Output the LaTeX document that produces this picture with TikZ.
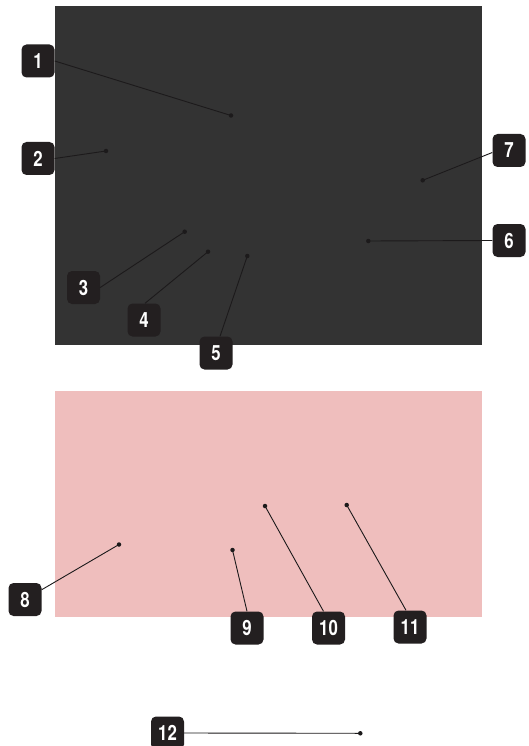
\documentclass[tikz,border=0pt]{standalone}
\usepackage{fontspec}
\newfontfamily\lblfont[FakeStretch=0.8]{TeX Gyre Heros}
\definecolor{darkbg}{RGB}{51,51,51}
\definecolor{pinkbg}{RGB}{239,190,189}
\definecolor{lblbg}{RGB}{35,31,32}
\definecolor{leaderdark}{RGB}{28,26,27}
\tikzset{
  lbl/.style={rectangle, rounded corners=5pt, fill=lblbg, text=white,
    minimum width=33pt, minimum height=33pt, inner sep=0pt,
    font=\lblfont\bfseries\fontsize{21}{21}\selectfont},
  dotpt/.style={circle, fill=leaderdark, inner sep=0pt, minimum size=4.5pt},
  leader/.style={draw=leaderdark, line width=0.9pt},
}
\begin{document}
\begin{tikzpicture}[x=1pt,y=-1pt]
\useasboundingbox (0,0) rectangle (529,746);
\fill[white] (0,0) rectangle (529,746);
\fill[darkbg] (55,6) rectangle (482,344.5);
\fill[pinkbg] (55,391) rectangle (482,617);

% dots
\node[dotpt] (d1) at (231,115.5) {};
\node[dotpt] (d2) at (106,151) {};
\node[dotpt] (d3) at (184.7,231.7) {};
\node[dotpt] (d4) at (208,251.7) {};
\node[dotpt] (d5) at (247.3,256) {};
\node[dotpt] (d6) at (368.3,241) {};
\node[dotpt] (d7) at (422.7,180.3) {};
\node[dotpt] (d8) at (119,544.5) {};
\node[dotpt] (d9) at (232.5,550) {};
\node[dotpt] (d10) at (265,506) {};
\node[dotpt] (d11) at (346.7,505) {};
\node[dotpt] (d12) at (360.3,733.3) {};

% labels
\node[lbl] (l1) at (38,61) {1};
\node[lbl] (l2) at (38,158.5) {2};
\node[lbl] (l3) at (83.5,287.5) {3};
\node[lbl] (l4) at (144,320) {4};
\node[lbl] (l5) at (216,353) {5};
\node[lbl] (l6) at (509,240.5) {6};
\node[lbl] (l7) at (509,150.5) {7};
\node[lbl] (l8) at (25,599.5) {8};
\node[lbl] (l9) at (247,628) {9};
\node[lbl] (l10) at (328.5,628) {10};
\node[lbl] (l11) at (410,627) {11};
\node[lbl] (l12) at (167.5,733) {12};

% leaders
\draw[leader] (l1.east) -- (d1.center);
\draw[leader] (l2.east) -- (d2.center);
\draw[leader] (l3.east) -- (d3.center);
\draw[leader] ([xshift=1pt]l4.north) -- (d4.center);
\draw[leader] ([xshift=4pt]l5.north) -- (d5.center);
\draw[leader] (l6.west) -- (d6.center);
\draw[leader] ([yshift=-2pt]l7.west) -- (d7.center);
\draw[leader] (l8) -- (d8.center);
\draw[leader] (l9.north) -- (d9.center);
\draw[leader] ([xshift=-5pt]l10.north) -- (d10.center);
\draw[leader] ([xshift=-4pt]l11.north) -- (d11.center);
\draw[leader] (l12.east) -- (d12.center);
\end{tikzpicture}
\end{document}
